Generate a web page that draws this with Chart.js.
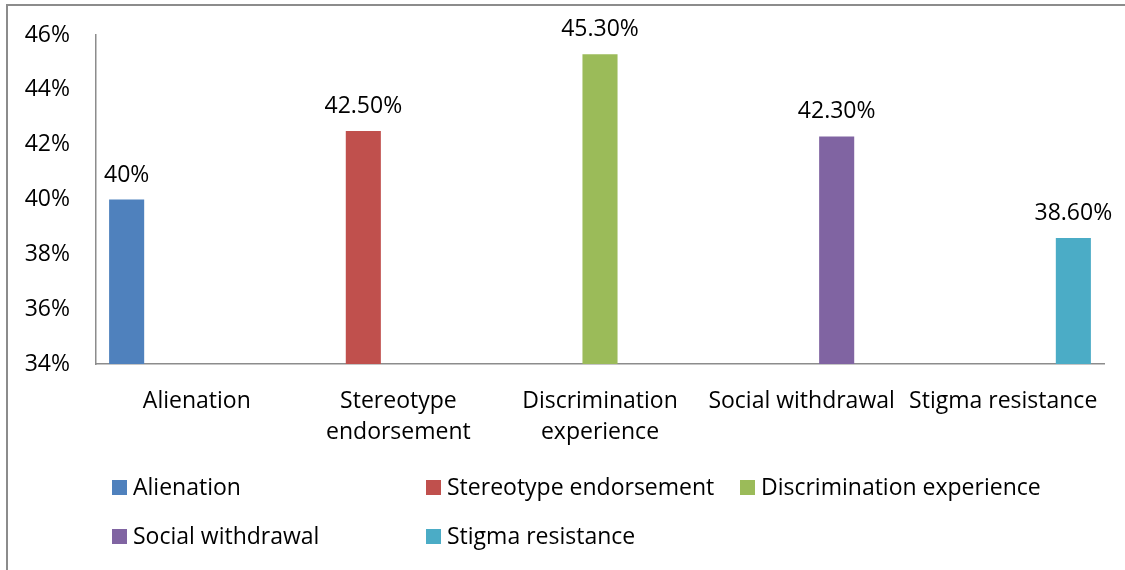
<!DOCTYPE html>
<html lang="en">
<head>
<meta charset="UTF-8">
<title>Internalized stigma subscales</title>
<style>
  body { margin: 0; background: #fff; }
  #wrap { position: relative; width: 1125px; height: 570px; overflow: hidden; }
  #frame { position: absolute; left: 6px; top: 4px; width: 1300px; height: 800px; border: 2px solid #8c8c8c; pointer-events: none; }
</style>
</head>
<body>
<div id="wrap">
  <canvas id="myCanvas" width="1125" height="570"></canvas>
  <div id="frame"></div>
</div>
<script src="https://cdn.jsdelivr.net/npm/chart.js@4.4.0/dist/chart.umd.min.js"></script>
<script>
// data
const categories = [['Alienation'], ['Stereotype', 'endorsement'], ['Discrimination', 'experience'], ['Social withdrawal'], ['Stigma resistance']];
const seriesNames = ['Alienation', 'Stereotype endorsement', 'Discrimination experience', 'Social withdrawal', 'Stigma resistance'];
const values = [40, 42.5, 45.3, 42.3, 38.6];
const valueLabels = ['40%', '42.50%', '45.30%', '42.30%', '38.60%'];
const yTicks = [34, 36, 38, 40, 42, 44, 46];
const colors = ['#4F81BD', '#C0504D', '#9BBB59', '#8064A2', '#4BACC6'];

const FONT = "'Open Sans', sans-serif";
const FONT_SIZE = 23;
const AXIS_COLOR = '#8c8c8c';

Chart.defaults.font.family = FONT;
Chart.defaults.font.size = FONT_SIZE;
Chart.defaults.color = '#000';

// each series only has a value in its own category (Excel style)
const datasets = seriesNames.map((name, i) => ({
    label: name,
    data: values.map((v, j) => (j === i ? v : null)),
    backgroundColor: colors[i],
    categoryPercentage: 0.87,
    barPercentage: 1.0
}));

// labels above the bars
const valueLabelPlugin = {
    id: 'valueLabels',
    afterDatasetsDraw(chart) {
        const ctx = chart.ctx;
        ctx.save();
        ctx.font = FONT_SIZE + 'px ' + FONT;
        ctx.fillStyle = '#000';
        ctx.textAlign = 'center';
        ctx.textBaseline = 'alphabetic';
        chart.data.datasets.forEach((ds, i) => {
            const meta = chart.getDatasetMeta(i);
            meta.data.forEach((bar, j) => {
                if (ds.data[j] == null) return;
                ctx.fillText(valueLabels[i], bar.x, bar.y - 18);
            });
        });
        ctx.restore();
    }
};

// legend laid out in a grid like the office one
const gridLegendPlugin = {
    id: 'gridLegend',
    afterDraw(chart) {
        const ctx = chart.ctx;
        const x0 = 112, y0 = 495, colW = 314, rowH = 49, cols = 3, box = 15, gap = 6;
        ctx.save();
        ctx.font = FONT_SIZE + 'px ' + FONT;
        ctx.textAlign = 'left';
        ctx.textBaseline = 'alphabetic';
        chart.data.datasets.forEach((ds, i) => {
            const x = x0 + (i % cols) * colW;
            const y = y0 + Math.floor(i / cols) * rowH;
            ctx.fillStyle = ds.backgroundColor;
            ctx.fillRect(x, y - box, box, box);
            ctx.fillStyle = '#000';
            ctx.fillText(ds.label, x + box + gap, y);
        });
        ctx.restore();
    }
};

const ctx = document.getElementById('myCanvas').getContext('2d');
const myChart = new Chart(ctx, {
    type: 'bar',
    data: {
        labels: categories,
        datasets: datasets
    },
    options: {
        responsive: false,
        animation: false,
        devicePixelRatio: 1,
        layout: { padding: { top: 35, right: 21, left: 0, bottom: 0 } },
        plugins: {
            legend: { display: false },
            tooltip: { enabled: false }
        },
        scales: {
            x: {
                grid: { display: false, drawTicks: false },
                border: { display: true, color: AXIS_COLOR, width: 1.5 },
                ticks: { padding: 22, maxRotation: 0, autoSkip: false, font: { lineHeight: 1.35 } },
                afterFit(scale) { scale.height = 206; }
            },
            y: {
                min: yTicks[0],
                max: yTicks[yTicks.length - 1],
                grid: { display: false, drawTicks: false },
                border: { display: true, color: AXIS_COLOR, width: 1.5 },
                ticks: {
                    stepSize: yTicks[1] - yTicks[0],
                    padding: 26,
                    callback: v => v + '%'
                },
                afterFit(scale) {
                    scale.width = 96;
                    // tick padding would otherwise push the plot top down
                    scale.paddingTop = 0;
                    scale.paddingBottom = 0;
                }
            }
        }
    },
    plugins: [valueLabelPlugin, gridLegendPlugin]
});
</script>
</body>
</html>
